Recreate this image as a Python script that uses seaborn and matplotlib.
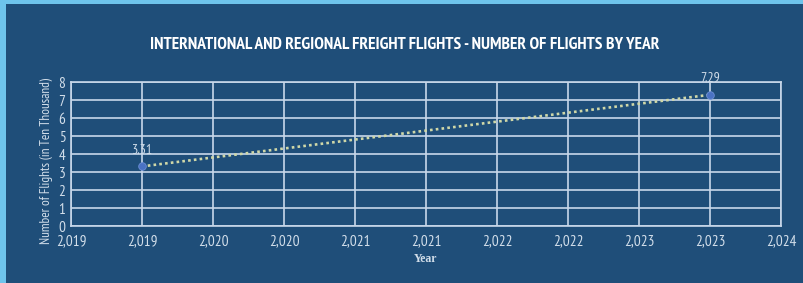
import matplotlib
matplotlib.use("Agg")
import matplotlib.pyplot as plt
import matplotlib.ticker as mticker
import matplotlib.patches as mpatches
import numpy as np
import pandas as pd
import seaborn as sns

years = [2019, 2023]
flights = [3.31, 7.29]
title = "INTERNATIONAL AND REGIONAL FREIGHT FLIGHTS - NUMBER OF FLIGHTS BY YEAR"
ylabel = "Number of Flights (in Ten Thousand)"
xlabel = "Year"

BG = "#1F4E79"
CYAN = "#6EC4EC"
GRID = "#C8D8EA"
TXT = "#D2DEEA"
NARROW = ["PT Sans Narrow", "Archivo Narrow", "Roboto Condensed", "DejaVu Sans"]

sns.set_style("white")
df = pd.DataFrame({"Year": years, "Flights": flights})

fig = plt.figure(figsize=(8.04, 2.83), dpi=100, facecolor=BG)
fig.patches.append(mpatches.Rectangle((0, 0), 6 / 804, 1, transform=fig.transFigure,
                                      facecolor=CYAN, edgecolor="none", zorder=0))
fig.patches.append(mpatches.Rectangle((0, 1 - 4 / 283), 1, 4 / 283, transform=fig.transFigure,
                                      facecolor=CYAN, edgecolor="none", zorder=0))

ax = fig.add_axes([71 / 804, 1 - 226 / 283, 710 / 804, 144 / 283])
ax.set_facecolor(BG)

sns.lineplot(data=df, x="Year", y="Flights", ax=ax, color="#D0D8A8",
             linestyle=(0, (1, 1.2)), linewidth=1.9, zorder=3)
sns.scatterplot(data=df, x="Year", y="Flights", ax=ax, color="#4A72C4",
                s=30, edgecolor="#6C8FD6", linewidth=0.6, zorder=4)

for x, y in zip(years, flights):
    ax.annotate(f"{y:.2f}", (x, y), xytext=(0, 7), textcoords="offset points",
                ha="center", va="bottom", color=TXT, fontsize=10, family=NARROW)

ax.set_xlim(2018.5, 2023.5)
ax.set_ylim(0, 8)
ax.xaxis.set_major_locator(mticker.MultipleLocator(0.5))
ax.yaxis.set_major_locator(mticker.MultipleLocator(1))
ax.xaxis.set_major_formatter(mticker.FuncFormatter(lambda v, p: f"{int(np.floor(v + 0.5)):,}"))
ax.yaxis.set_major_formatter(mticker.FuncFormatter(lambda v, p: f"{int(round(v))}"))

ax.grid(True, color=GRID, linewidth=1.2)
ax.set_axisbelow(True)
for s in ax.spines.values():
    s.set_color(GRID)
    s.set_linewidth(1.2)
ax.tick_params(axis="both", length=0, colors=TXT, labelsize=11)
ax.tick_params(axis="x", pad=6)
ax.tick_params(axis="y", pad=4)
for lab in ax.get_xticklabels() + ax.get_yticklabels():
    lab.set_family(NARROW)

ax.set_xlabel(xlabel, color=TXT, fontsize=8.5, family=["Liberation Serif", "DejaVu Serif"],
              fontweight="bold", labelpad=3)
ax.set_ylabel(ylabel, color=TXT, fontsize=9.5, family=NARROW, labelpad=2)
ax.yaxis.set_label_coords(-0.026, 0.45)

fig.text(0.503, 1 - 45 / 283, title, ha="center", va="center", color="white",
         fontsize=12.5, fontweight="bold", family=NARROW)

fig.savefig("out.png", dpi=100, facecolor=BG)
